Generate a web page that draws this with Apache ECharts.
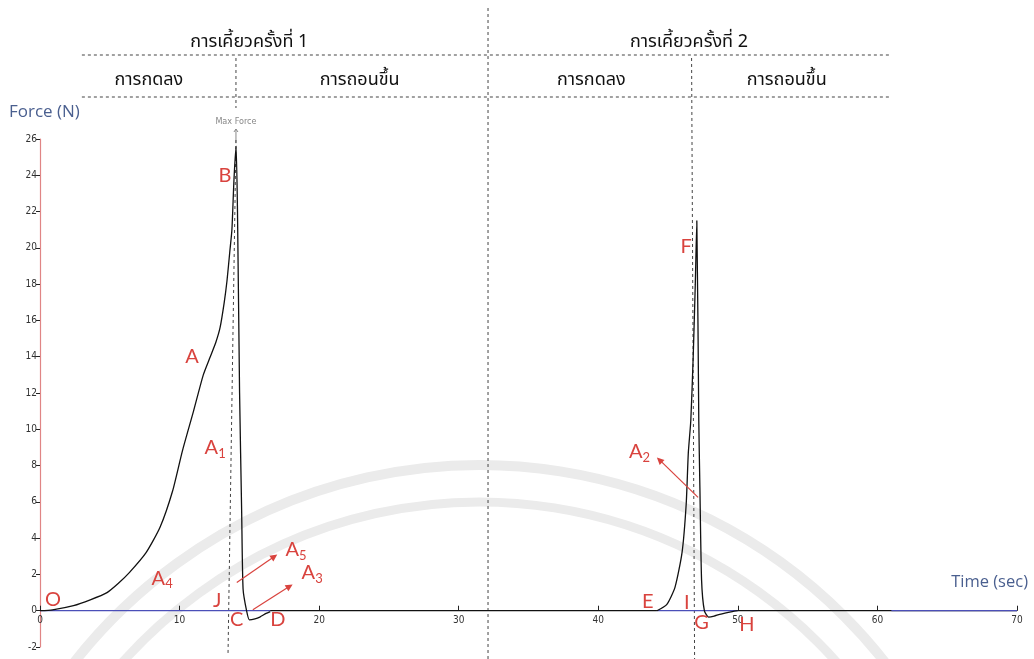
<!DOCTYPE html>
<html><head><meta charset="utf-8">
<script src="https://cdn.jsdelivr.net/npm/echarts@6/dist/echarts.min.js"></script>
<style>html,body{margin:0;padding:0;background:#fff}#c{width:1034px;height:659px}</style>
</head><body><div id="c"></div>
<script>
// ---- data ----
const xTicks = [0, 10, 20, 30, 40, 50, 60, 70];
const yTicks = [-2, 0, 2, 4, 6, 8, 10, 12, 14, 16, 18, 20, 22, 24, 26];

const chew1Time  = [0, 0.9, 2.4, 3.6, 4.8, 5.6, 6.4, 7.6, 8.6, 9.5, 10.2, 11.0, 11.7, 12.2, 12.6, 12.9, 13.2, 13.4, 13.6, 13.75, 13.9, 14.05, 14.15, 14.3, 14.45, 14.55, 14.8, 15.0, 15.4, 15.75, 16.2, 16.5];
const chew1Force = [0, 0.05, 0.28, 0.6, 1.0, 1.5, 2.1, 3.2, 4.6, 6.6, 8.8, 11.0, 13.0, 14.0, 14.8, 15.6, 17.0, 18.2, 19.8, 21.0, 23.8, 25.6, 22.0, 12.0, 5.4, 1.2, 0, -0.5, -0.45, -0.35, -0.15, -0.05];

const restTime  = [16.5, 44.2];
const restForce = [0, 0];

const chew2Time  = [44.2, 44.9, 45.5, 46.0, 46.3, 46.45, 46.63, 46.8, 46.95, 47.06, 47.2, 47.28, 47.4, 47.6, 47.9, 48.3, 48.7, 49.6, 50.0];
const chew2Force = [0, 0.33, 1.3, 3.2, 5.9, 8.7, 10.5, 14.0, 18.0, 21.5, 10.5, 6.8, 1.7, 0, -0.35, -0.3, -0.2, -0.05, 0];

const tailTime  = [50.0, 70.0];
const tailForce = [0, 0];

// blue baseline segments (null separates)
const baseTime  = [0, 16.5, null, 44.2, 50.0, null, 61.0, 70.0];
const baseForce = [0, 0, null, 0, 0, null, 0, 0];

const headerTitles = ['การเคี้ยวครั้งที่ 1', 'การเคี้ยวครั้งที่ 2'];
const phaseTitles  = ['การกดลง', 'การถอนขึ้น', 'การกดลง', 'การถอนขึ้น'];

// ---- build ----
function pairs(t, f) { return t.map((v, i) => [v, f[i]]); }
const chew1Data = pairs(chew1Time, chew1Force);
const restData  = pairs(restTime, restForce);
const chew2Data = pairs(chew2Time, chew2Force);
const tailData  = pairs(tailTime, tailForce);
const baseData = baseTime.map((v, i) => (v === null ? '-' : [v, baseForce[i]]));

const chart = echarts.init(document.getElementById('c'), null, { renderer: 'canvas' });
const axisFont = '"DejaVu Sans Condensed", "Liberation Sans Narrow", sans-serif';
const Y_MIN = -2, Y_MAX = 26, GRID_TOP = 139, GRID_BOTTOM = 12;
const plotH = 659 - GRID_TOP - GRID_BOTTOM;
const zeroOffset = -(0 - Y_MIN) / (Y_MAX - Y_MIN) * plotH;   // lift x axis to y = 0
const lineStyleCurve = { color: '#111', width: 1.3 };
chart.setOption({
  animation: false,
  backgroundColor: '#fff',
  grid: { left: 40, right: 17, top: GRID_TOP, bottom: GRID_BOTTOM, containLabel: false },
  xAxis: {
    type: 'value', min: 0, max: 70, interval: 10, position: 'bottom', offset: zeroOffset,
    axisLine: { onZero: false, lineStyle: { color: '#222', width: 1 } },
    axisTick: { inside: true, length: 5, lineStyle: { color: '#222' } },
    axisLabel: { color: '#333', fontFamily: axisFont, fontSize: 10, margin: 5,
      formatter: v => (xTicks.indexOf(v) >= 0 ? String(v) : '') },
    splitLine: { show: false }
  },
  yAxis: {
    type: 'value', min: Y_MIN, max: Y_MAX, interval: 2,
    axisLine: { show: true, onZero: false, lineStyle: { color: '#e08585', width: 1.2 } },
    axisTick: { show: true, length: 4, lineStyle: { color: '#222' } },
    axisLabel: { color: '#333', fontFamily: axisFont, fontSize: 10, margin: 3,
      formatter: v => (yTicks.indexOf(v) >= 0 ? String(v) : '') },
    splitLine: { show: false }
  },
  series: [
    { type: 'line', data: restData, symbol: 'none', z: 3, lineStyle: lineStyleCurve },
    { type: 'line', data: tailData, symbol: 'none', z: 3, lineStyle: lineStyleCurve },
    { type: 'line', data: baseData, symbol: 'none', connectNulls: false, z: 4,
      lineStyle: { color: '#4b4fb8', width: 1.3 } },
    { type: 'line', data: chew1Data, symbol: 'none', z: 5, smooth: 0.2, lineStyle: lineStyleCurve },
    { type: 'line', data: chew2Data, symbol: 'none', z: 5, smooth: 0.2, lineStyle: lineStyleCurve }
  ]
});

// ---- annotations (anchored in data space) ----
const P = (t, f) => chart.convertToPixel({ gridIndex: 0 }, [t, f]);
const red = '#d9433e';
const lblFont = 'Lato, "Open Sans", sans-serif';
const pointLabels = [
  ['O', null, 0.93, 0.6], ['A', null, 10.9, 14.0], ['B', null, 13.25, 24.0],
  ['A', '1', 12.55, 9.0], ['A', '4', 8.75, 1.8], ['J', null, 12.7, 0.55],
  ['C', null, 14.1, -0.5], ['D', null, 17.05, -0.5], ['A', '5', 18.35, 3.35],
  ['A', '3', 19.5, 2.1], ['F', null, 46.3, 20.05], ['A', '2', 42.95, 8.75],
  ['E', null, 43.55, 0.5], ['I', null, 46.35, 0.45], ['G', null, 47.4, -0.65],
  ['H', null, 50.65, -0.75]
];
const arrows = [
  [14.1, 1.55, 17.0, 3.1], [15.25, 0.05, 18.1, 1.45], [47.15, 6.25, 44.2, 8.45]
];
const g = [];
// faint watermark arcs
const [wcx] = P(31.5, 0);
g.push({ type: 'arc', z: 0, silent: true, shape: { cx: wcx, cy: 980, r: 515, startAngle: Math.PI * 1.05, endAngle: Math.PI * 1.95 },
  style: { stroke: '#ebebeb', lineWidth: 10, fill: null } });
g.push({ type: 'arc', z: 0, silent: true, shape: { cx: wcx, cy: 980, r: 478, startAngle: Math.PI * 1.05, endAngle: Math.PI * 1.95 },
  style: { stroke: '#ebebeb', lineWidth: 9, fill: null } });
pointLabels.forEach(([m, sub, t, f]) => {
  const [x, y] = P(t, f);
  g.push({ type: 'text', x: x, y: y, z: 10,
    style: { text: sub ? '{m|' + m + '}{s|' + sub + '}' : '{m|' + m + '}',
      rich: { m: { fontSize: 20, fontFamily: lblFont, fill: red },
              s: { fontSize: 13, fontFamily: lblFont, fill: red, padding: [12, 0, 0, 0] } },
      align: 'center', verticalAlign: 'middle' } });
});
arrows.forEach(([t1, f1, t2, f2]) => {
  const [x1, y1] = P(t1, f1), [x2, y2] = P(t2, f2);
  const ang = Math.atan2(y2 - y1, x2 - x1), L = 8, W = 0.45;
  g.push({ type: 'line', z: 10, shape: { x1, y1, x2: x2 - Math.cos(ang) * 4, y2: y2 - Math.sin(ang) * 4 },
    style: { stroke: red, lineWidth: 1.2 } });
  g.push({ type: 'polygon', z: 10, shape: { points: [[x2, y2],
      [x2 - L * Math.cos(ang - W), y2 - L * Math.sin(ang - W)],
      [x2 - L * Math.cos(ang + W), y2 - L * Math.sin(ang + W)]] },
    style: { fill: red } });
});
// dashed guide lines
const dash = { stroke: '#444', lineWidth: 1, lineDash: [3, 3] };
const [v1top] = P(14.04, 0), [v1bot] = P(13.47, 0);
g.push({ type: 'line', z: 2, shape: { x1: v1top, y1: 58, x2: v1top, y2: 108 }, style: dash });
g.push({ type: 'line', z: 2, shape: { x1: v1top, y1: 140, x2: v1bot, y2: 655 }, style: dash });
const [v2] = P(32.1, 0);
g.push({ type: 'line', z: 2, shape: { x1: v2, y1: 8, x2: v2, y2: 659 }, style: dash });
const [v3] = P(46.9, 0);
g.push({ type: 'line', z: 2, shape: { x1: v3 - 3, y1: 58, x2: v3, y2: 659 }, style: dash });
const [h1] = P(3.0, 0), [h2] = P(61.0, 0);
g.push({ type: 'line', z: 2, shape: { x1: h1, y1: 55, x2: h2, y2: 55 }, style: dash });
g.push({ type: 'line', z: 2, shape: { x1: h1, y1: 97, x2: h2, y2: 97 }, style: dash });
// headers
const thaiFont = '"Noto Sans Thai", "Noto Sans", Tahoma, sans-serif';
const headerAt = [[15.0, headerTitles[0]], [46.5, headerTitles[1]]];
headerAt.forEach(([t, s]) => { const [x] = P(t, 0);
  g.push({ type: 'text', x: x, y: 43, style: { text: s, fontSize: 18, fontFamily: thaiFont, fill: '#111', align: 'center', verticalAlign: 'middle' } }); });
const phaseAt = [7.8, 22.9, 39.5, 53.5];
phaseAt.forEach((t, i) => { const [x] = P(t, 0);
  g.push({ type: 'text', x: x, y: 81, style: { text: phaseTitles[i], fontSize: 18, fontFamily: thaiFont, fill: '#111', align: 'center', verticalAlign: 'middle' } }); });
// axis names
g.push({ type: 'text', x: 9, y: 112, style: { text: 'Force (N)', fontSize: 17, fontFamily: '"Open Sans", sans-serif', fill: '#4a5f8f', verticalAlign: 'middle' } });
g.push({ type: 'text', x: 1028, y: 582, style: { text: 'Time (sec)', fontSize: 16.5, fontFamily: '"Open Sans", sans-serif', fill: '#4a5f8f', align: 'right', verticalAlign: 'middle' } });
// Max Force marker
const [mx, my] = P(14.04, 25.6);
g.push({ type: 'text', x: mx, y: 122, style: { text: 'Max Force', fontSize: 9, fontFamily: axisFont, fill: '#888', align: 'center', verticalAlign: 'middle' } });
g.push({ type: 'line', shape: { x1: mx, y1: 129, x2: mx, y2: my - 3 }, style: { stroke: '#888', lineWidth: 1 } });
g.push({ type: 'polyline', shape: { points: [[mx - 2, 132], [mx, 129], [mx + 2, 132]] }, style: { stroke: '#888', lineWidth: 1, fill: null } });
chart.setOption({ graphic: { elements: g } });
</script></body></html>
